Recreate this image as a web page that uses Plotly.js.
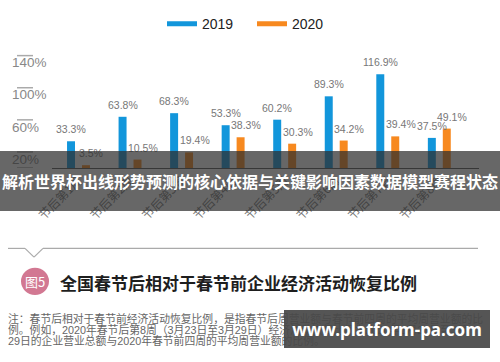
<!DOCTYPE html>
<html><head><meta charset="utf-8">
<script src="https://cdn.plot.ly/plotly-3.0.1.min.js"></script>
<style>html,body{margin:0;padding:0;background:#fff}#chart{width:500px;height:362px}</style>
</head><body><div id="chart"></div>
<script>
// ---- data ----
const categories = ['节后第1周', '节后第2周', '节后第3周', '节后第4周', '节后第5周', '节后第6周', '节后第7周', '节后第8周'];
const series2019 = [33.3, 63.8, 68.3, 53.3, 60.2, 89.3, 116.9, 37.5];
const series2020 = [3.5, 10.5, 19.4, 38.3, 30.3, 34.2, 39.4, 49.1];
const seriesNames = ['2019', '2020'];
const yTickValues = [0, 20, 60, 100, 140];
const yTickLabels = ['0%', '20%', '60%', '100%', '140%'];
const bannerText = '解析世界杯出线形势预测的核心依据与关键影响因素数据模型赛程状态';
const figureTag = '图5';
const figureTitle = '全国春节后相对于春节前企业经济活动恢复比例';
const noteLines = [
  '注：春节后相对于春节前经济活动恢复比例，是指春节后周营业额与春节前四周的平均周营业额的比',
  '例。例如，2020年春节后第8周（3月23日至3月29日）经济活动恢复比例为2020年3月23日至3月',
  '29日的企业营业总额与2020年春节前四周的平均周营业额的比例。'
];
const watermarkText = 'www.platform-pa.com';

// ---- layout helpers ----
const W = 500, H = 362, ML = 8, MR = 21, MT = 40, MB = 194;
const PW = W - ML - MR, PH = H - MT - MB;
const X = px => (px - ML) / PW;
const Y = py => (H - MB - py) / PH;
const BLUE = '#1296db', ORANGE = '#f7891f';
const LAT = 'Liberation Sans, Arial, Noto Sans CJK SC, sans-serif';
const CJK = 'Noto Sans CJK SC, sans-serif';
const pct = v => v.toFixed(1) + '%';

const traces = [
  {type: 'bar', x: categories, y: series2019, marker: {color: BLUE}, showlegend: false, hoverinfo: 'skip'},
  {type: 'bar', x: categories, y: series2020, marker: {color: ORANGE}, showlegend: false, hoverinfo: 'skip'},
  {type: 'scatter', mode: 'lines', x: [null], y: [null], name: seriesNames[0], line: {color: BLUE, width: 5}},
  {type: 'scatter', mode: 'lines', x: [null], y: [null], name: seriesNames[1], line: {color: ORANGE, width: 5}}
];

const annotations = [];
categories.forEach((c, i) => {
  annotations.push({x: c, y: series2019[i], xref: 'x', yref: 'y', text: pct(series2019[i]), showarrow: false,
    xshift: -7.5, yshift: 12, font: {family: LAT, size: 10.5, color: '#777'}});
  annotations.push({x: c, y: series2020[i], xref: 'x', yref: 'y', text: pct(series2020[i]), showarrow: false,
    xshift: 13, yshift: 12, font: {family: LAT, size: 10.5, color: '#777'}});
});
// circle tag + title
annotations.push({xref: 'paper', yref: 'paper', x: X(35), y: Y(285), xanchor: 'center', yanchor: 'middle',
  text: figureTag, showarrow: false, font: {family: CJK, size: 13, color: '#fff'}});
annotations.push({xref: 'paper', yref: 'paper', x: X(58), y: Y(286), xanchor: 'left', yanchor: 'middle',
  text: figureTitle, showarrow: false, font: {family: CJK, size: 17, color: '#1e1e1e', weight: 700}});
// note lines
const noteY = [323, 334.5, 346];
noteLines.forEach((t, i) => annotations.push({xref: 'paper', yref: 'paper', x: X(6), y: Y(noteY[i]),
  xanchor: 'left', yanchor: 'middle', text: t, showarrow: false,
  font: {family: LAT, size: 10.8, color: '#666'}}));
// banner overlay
annotations.push({xref: 'paper', yref: 'paper', x: X(250), y: Y(181), xanchor: 'center', yanchor: 'middle',
  text: bannerText, showarrow: false, width: 500, height: 60, borderpad: 0, borderwidth: 0,
  bgcolor: 'rgba(45,45,45,0.72)', font: {family: CJK, size: 16, color: '#fff', weight: 700}});
// watermark
annotations.push({xref: 'paper', yref: 'paper', x: X(387), y: Y(334), xanchor: 'center', yanchor: 'middle',
  text: watermarkText, showarrow: false, width: 206, height: 38, borderpad: 0, borderwidth: 0,
  bgcolor: 'rgba(72,72,72,0.93)', font: {family: 'Noto Sans, sans-serif', size: 17, color: '#fff', weight: 700}});

const shapes = [];
yTickValues.forEach(v => shapes.push({type: 'line', xref: 'paper', yref: 'y', x0: X(17), x1: X(33), y0: v, y1: v,
  line: {color: '#aaa', width: 1.5}}));
const divider = [[8, 251], [25, 251], [34, 260], [43, 251], [478, 251]];
for (let i = 0; i < divider.length - 1; i++) {
  shapes.push({type: 'line', xref: 'paper', yref: 'paper', x0: X(divider[i][0]), y0: Y(divider[i][1]),
    x1: X(divider[i + 1][0]), y1: Y(divider[i + 1][1]), line: {color: '#aaa', width: 1.2}});
}
shapes.push({type: 'circle', xref: 'paper', yref: 'paper', x0: X(21), x1: X(49), y0: Y(271), y1: Y(299),
  fillcolor: '#d27892', line: {width: 0}});

const layout = {
  width: W, height: H,
  margin: {l: ML, r: MR, t: MT, b: MB, pad: 0},
  paper_bgcolor: '#fff', plot_bgcolor: '#fff',
  barmode: 'group', bargap: 0.42, bargroupgap: 0.466,
  xaxis: {type: 'category', domain: [X(52), 1], range: [-0.514, 7.77], tickangle: -45, ticks: '',
    showline: true, linecolor: '#555', linewidth: 1, showgrid: false, zeroline: false, fixedrange: true,
    tickfont: {family: CJK, size: 12, color: '#777'}},
  yaxis: {anchor: 'free', position: 0, range: [0, PH / 0.8286], tickvals: yTickValues, ticktext: yTickLabels,
    ticklabelposition: 'inside', ticklabelshift: 7, ticks: '', showgrid: false, zeroline: false, showline: false,
    fixedrange: true, tickfont: {family: LAT, size: 13.5, color: '#888'}},
  legend: {orientation: 'h', x: X(162), y: Y(3), xanchor: 'left', yanchor: 'top',
    entrywidth: 45, entrywidthmode: 'pixels',
    font: {family: LAT, size: 14, color: '#222'}, bgcolor: 'rgba(0,0,0,0)'},
  annotations: annotations,
  shapes: shapes,
  showlegend: true
};
Plotly.newPlot('chart', traces, layout, {staticPlot: true, displayModeBar: false});
</script>
</body></html>
